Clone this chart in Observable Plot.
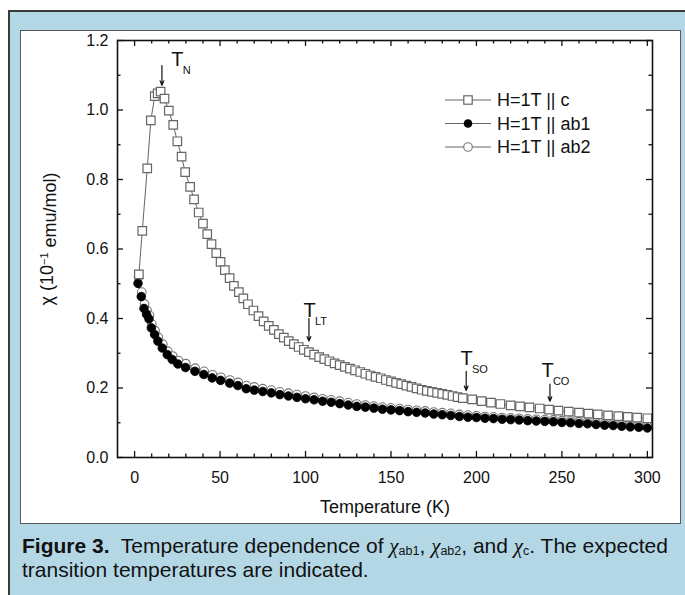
<!DOCTYPE html>
<html><head><meta charset="utf-8">
<script src="https://cdn.jsdelivr.net/npm/d3@7"></script>
<script src="https://cdn.jsdelivr.net/npm/@observablehq/plot@0.6"></script>
<style>
html,body{margin:0;padding:0;background:#fff;width:685px;height:595px;overflow:hidden;font-family:"Liberation Sans",Arial,sans-serif;}
#outer{position:absolute;left:8px;top:10px;width:690px;height:600px;background:#b4d7e6;border-left:2px solid #3a3a3a;border-top:2px solid #3a3a3a;}
#panel{position:absolute;left:20px;top:30px;width:661px;height:494px;background:#fff;border:1px solid #5a5a5a;box-sizing:border-box;}
#chart{position:absolute;left:20px;top:30px;}
#caption{position:absolute;left:22px;top:534px;font-size:21px;line-height:23px;color:#111;white-space:nowrap;}
#caption .chi{font-family:"Liberation Serif","DejaVu Serif",serif;font-style:italic;}
#caption sub{font-size:12.5px;vertical-align:-2px;line-height:0;}
</style></head>
<body>
<div id="outer"></div>
<div id="panel"></div>
<div id="chart"></div>
<div id="caption"><b>Figure 3.</b>&nbsp; Temperature dependence of <span class="chi">χ</span><sub>ab1</sub>, <span class="chi">χ</span><sub>ab2</sub>, and <span class="chi">χ</span><sub>c</sub>. The expected<br>transition temperatures are indicated.</div>
<script>
// ---- data ----
const seriesNames = ["H=1T || c", "H=1T || ab1", "H=1T || ab2"];

const cT = [2.5, 4.5, 7.4, 9.5, 11.8, 13.5, 15.2, 17.5, 20.0, 22.6, 25.0, 27.5, 29.6, 32.5, 34.8, 37.5, 40.0, 42.5, 45.0, 47.8,
  50.3, 52.8, 55.6, 58.1, 61.0, 63.6, 66.3, 69.5, 72.5, 75.5, 78.5, 81.5, 84.4, 87.3, 90.2, 93.2, 96, 99, 102, 105,
  108, 111, 114, 117, 120, 123, 126, 129, 132, 135, 138, 141, 144, 147, 150, 153, 156, 159, 162, 165,
  168, 171, 174, 177, 180, 183, 186, 189, 192, 197.5, 203, 208.5, 214, 220, 225.5, 231, 237, 242.5, 248, 254,
  260, 265.5, 271, 277, 283, 288.5, 294, 300];
const cChi = [0.527, 0.652, 0.832, 0.970, 1.040, 1.048, 1.053, 1.033, 0.998, 0.957, 0.910, 0.866, 0.821, 0.779, 0.743, 0.705, 0.673, 0.643, 0.614, 0.588,
  0.563, 0.539, 0.516, 0.494, 0.476, 0.458, 0.441, 0.423, 0.407, 0.392, 0.379, 0.367, 0.355, 0.345, 0.335, 0.326, 0.318, 0.310, 0.303, 0.296,
  0.289, 0.283, 0.277, 0.271, 0.266, 0.261, 0.256, 0.251, 0.246, 0.241, 0.236, 0.232, 0.228, 0.223, 0.219, 0.215, 0.211, 0.207, 0.203, 0.199,
  0.195, 0.192, 0.189, 0.186, 0.183, 0.180, 0.177, 0.174, 0.171, 0.167, 0.162, 0.158, 0.154, 0.150, 0.147, 0.144, 0.141, 0.138, 0.135, 0.132,
  0.129, 0.126, 0.124, 0.121, 0.119, 0.117, 0.115, 0.113];

const ab1T = [2, 3.9, 5.5, 7, 8.4, 9.8, 11.7, 13.6, 16.2, 19.1, 22, 25.3, 29.8, 35.3, 40.5, 45.4, 50.3, 55.6, 60.4, 65.3,
  70, 75, 80, 85, 90, 95, 100, 105, 110, 115, 120, 125, 130, 135, 140, 145, 150, 155, 160, 165,
  170, 175, 180, 185, 190, 195, 200, 205, 210, 215, 220, 225, 230, 235, 240, 245, 250, 255, 260, 265,
  270, 275, 280, 285, 290, 295, 300];
const ab1Chi = [0.501, 0.463, 0.429, 0.412, 0.399, 0.373, 0.354, 0.335, 0.315, 0.296, 0.282, 0.269, 0.259, 0.248, 0.239, 0.229, 0.222, 0.214, 0.207, 0.198,
  0.194, 0.190, 0.186, 0.181, 0.177, 0.173, 0.169, 0.166, 0.162, 0.159, 0.155, 0.151, 0.147, 0.145, 0.142, 0.139, 0.137, 0.135, 0.132, 0.130,
  0.128, 0.125, 0.123, 0.121, 0.118, 0.116, 0.115, 0.113, 0.112, 0.110, 0.109, 0.108, 0.106, 0.105, 0.104, 0.103, 0.101, 0.100, 0.098, 0.097,
  0.095, 0.093, 0.092, 0.090, 0.088, 0.087, 0.085];

const ab2T = [2.3, 4.2, 5.8, 7.3, 8.7, 10.1, 12, 13.9, 16.5, 19.4, 22.3, 25.6, 30, 35.5, 40.7, 45.6, 50.5, 55.8, 60.6, 65.5,
  70, 75, 80, 85, 90, 95, 100, 105, 110, 115, 120, 125, 130, 135, 140, 145, 150, 155, 160, 165,
  170, 175, 180, 185, 190, 195, 200, 205, 210, 215, 220, 225, 230, 235, 240, 245, 250, 255, 260, 265,
  270, 275, 280, 285, 290, 295, 300];
const ab2Chi = [0.520, 0.476, 0.442, 0.423, 0.409, 0.384, 0.365, 0.346, 0.326, 0.306, 0.292, 0.279, 0.270, 0.257, 0.248, 0.238, 0.231, 0.223, 0.216, 0.207,
  0.203, 0.198, 0.194, 0.189, 0.185, 0.181, 0.177, 0.173, 0.169, 0.166, 0.162, 0.158, 0.154, 0.151, 0.148, 0.145, 0.143, 0.141, 0.138, 0.136,
  0.134, 0.131, 0.129, 0.127, 0.124, 0.122, 0.120, 0.118, 0.117, 0.115, 0.114, 0.113, 0.111, 0.110, 0.109, 0.108, 0.106, 0.105, 0.103, 0.102,
  0.100, 0.098, 0.097, 0.095, 0.093, 0.092, 0.090];

// transition annotations
const transLabels = ["N", "LT", "SO", "CO"];
const transT = [16, 102, 194, 243];
const arrowTop = [1.128, 0.400, 0.248, 0.211];
const arrowBottom = [1.071, 0.335, 0.193, 0.162];
const labelT = [21.5, 98.8, 190.6, 238];
const labelChi = [1.128, 0.405, 0.266, 0.231];

// axes
const xMajorTicks = [0, 50, 100, 150, 200, 250, 300];
const yMajorTicks = [0.0, 0.2, 0.4, 0.6, 0.8, 1.0, 1.2];
const xMinorTicks = d3.range(10, 300, 10).filter(v => v % 50 !== 0);
const yMinorTicks = [0.1, 0.3, 0.5, 0.7, 0.9, 1.1];
const xLabel = "Temperature (K)";
const yLabel = "χ (10-1 emu/mol)";

// ---- build ----
const cData = cT.map((t, i) => ({T: t, chi: cChi[i]}));
const ab1Data = ab1T.map((t, i) => ({T: t, chi: ab1Chi[i]}));
const ab2Data = ab2T.map((t, i) => ({T: t, chi: ab2Chi[i]}));
const idx = transLabels.map((d, i) => i);

const W = 660, H = 493, mL = 97, mR = 28, mT = 10, mB = 66;
const innerW = W - mL - mR, innerH = H - mT - mB;
const ink = "#111";

const svg = Plot.plot({
  width: W, height: H,
  marginLeft: mL, marginRight: mR, marginTop: mT, marginBottom: mB,
  style: {fontFamily: "'Liberation Sans', Arial, sans-serif", fontSize: "16px", color: ink, background: "transparent"},
  x: {domain: [-10, 303]},
  y: {domain: [0, 1.2]},
  marks: [
    // tick labels
    Plot.axisX({ticks: xMajorTicks, tickSize: 0, tickPadding: 14, label: null, fontSize: 16}),
    Plot.axisY({ticks: yMajorTicks, tickSize: 0, tickPadding: 9, tickFormat: d3.format(".1f"), label: null, fontSize: 16}),
    // inward ticks on all four sides
    Plot.tickX(xMajorTicks, {x: d => d, insetTop: innerH - 6, stroke: ink, strokeWidth: 1.3}),
    Plot.tickX(xMajorTicks, {x: d => d, insetBottom: innerH - 6, stroke: ink, strokeWidth: 1.3}),
    Plot.tickX(xMinorTicks, {x: d => d, insetTop: innerH - 3.5, stroke: ink, strokeWidth: 1.3}),
    Plot.tickX(xMinorTicks, {x: d => d, insetBottom: innerH - 3.5, stroke: ink, strokeWidth: 1.3}),
    Plot.tickY(yMajorTicks, {y: d => d, insetRight: innerW - 6, stroke: ink, strokeWidth: 1.3}),
    Plot.tickY(yMajorTicks, {y: d => d, insetLeft: innerW - 6, stroke: ink, strokeWidth: 1.3}),
    Plot.tickY(yMinorTicks, {y: d => d, insetRight: innerW - 3.5, stroke: ink, strokeWidth: 1.3}),
    Plot.tickY(yMinorTicks, {y: d => d, insetLeft: innerW - 3.5, stroke: ink, strokeWidth: 1.3}),
    // axis titles
    Plot.text([xLabel], {frameAnchor: "bottom", dy: 55, fontSize: 18, fill: ink}),
    Plot.text([yLabel], {frameAnchor: "left", textAnchor: "middle", rotate: -90, dx: -70, dy: -10, fontSize: 18, fill: ink}),
    // series
    Plot.line(cData, {x: "T", y: "chi", stroke: "#666", strokeWidth: 1}),
    Plot.line(ab2Data, {x: "T", y: "chi", stroke: "#666", strokeWidth: 1}),
    Plot.line(ab1Data, {x: "T", y: "chi", stroke: "#333", strokeWidth: 1}),
    Plot.dot(ab2Data, {x: "T", y: "chi", r: 4.3, fill: "white", stroke: "#777", strokeWidth: 1.1}),
    Plot.dot(ab1Data, {x: "T", y: "chi", r: 4.3, fill: "#000", stroke: "#000", strokeWidth: 0.8}),
    Plot.dot(cData, {x: "T", y: "chi", symbol: "square", r: 4.8, fill: "white", stroke: "#666", strokeWidth: 1.2}),
    // transition arrows and labels
    Plot.arrow(idx, {x1: i => transT[i], x2: i => transT[i], y1: i => arrowTop[i], y2: i => arrowBottom[i],
      stroke: ink, strokeWidth: 1.2, headLength: 6, headAngle: 45}),
    Plot.text(idx, {x: i => labelT[i], y: i => labelChi[i], text: () => "T", textAnchor: "start", lineAnchor: "bottom", fontSize: 20, fill: ink}),
    Plot.text(idx, {x: i => labelT[i], y: i => labelChi[i], text: i => transLabels[i], textAnchor: "start", lineAnchor: "bottom", dx: 11.5, dy: 8, fontSize: 11, fill: ink}),
    Plot.frame({stroke: ink, strokeWidth: 1.6})
  ]
});
document.getElementById("chart").append(svg);

// y label superscript
const s = d3.select(svg);
s.selectAll("text").filter(function() { return this.textContent === yLabel; }).each(function() {
  const t = d3.select(this);
  t.text(null);
  t.append("tspan").text("χ (10");
  t.append("tspan").attr("dy", "-0.45em").attr("font-size", 11).text("−1");
  t.append("tspan").attr("dy", "0.45em").text(" emu/mol)");
});

// legend (inside the plot, top-right)
const legendRows = [70, 93.5, 117];
const lg = s.append("g").attr("font-size", 18).attr("fill", ink).attr("text-anchor", "start");
seriesNames.forEach((name, i) => {
  const y = legendRows[i];
  lg.append("line").attr("x1", 425).attr("x2", 471).attr("y1", y).attr("y2", y).attr("stroke", "#666").attr("stroke-width", 1.2);
  if (i === 0) {
    lg.append("rect").attr("x", 448 - 4.2).attr("y", y - 4.2).attr("width", 8.4).attr("height", 8.4).attr("fill", "white").attr("stroke", "#666").attr("stroke-width", 1.2);
  } else if (i === 1) {
    lg.append("circle").attr("cx", 448).attr("cy", y).attr("r", 4.3).attr("fill", "#000");
  } else {
    lg.append("circle").attr("cx", 448).attr("cy", y).attr("r", 4.3).attr("fill", "white").attr("stroke", "#777").attr("stroke-width", 1.1);
  }
  lg.append("text").attr("x", 477).attr("y", y).attr("dy", "0.36em").attr("text-anchor", "start").text(name);
});
</script>
</body></html>
